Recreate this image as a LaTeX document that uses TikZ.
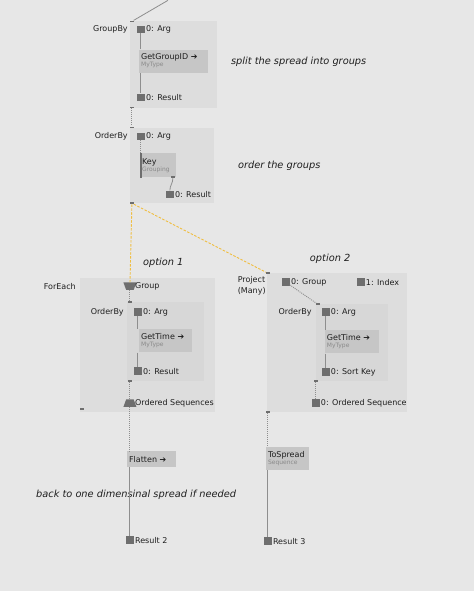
\documentclass[tikz,border=0pt]{standalone}
\usepackage{fontspec}
\setmainfont{DejaVu Sans}
\usetikzlibrary{shapes.geometric}
\definecolor{bgcol}{HTML}{E7E7E7}
\definecolor{regcol}{HTML}{DDDDDD}
\definecolor{subregcol}{HTML}{D7D7D7}
\definecolor{fncol}{HTML}{C6C6C6}
\definecolor{pincol}{HTML}{6E6E6E}
\definecolor{wirecol}{HTML}{8E8E8E}
\definecolor{txtcol}{HTML}{1E1E1E}
\definecolor{subtxtcol}{HTML}{8A8A8A}
\definecolor{spreadcol}{HTML}{F0BE40}
\tikzset{
  region/.style={fill=regcol, anchor=north west, inner sep=0pt},
  subregion/.style={fill=subregcol, anchor=north west, inner sep=0pt},
  pin/.style={fill=pincol, minimum size=7.5pt, inner sep=0pt},
  stub/.style={fill=pincol, minimum width=4pt, minimum height=1.6pt, inner sep=0pt},
  funnel/.style={trapezium, fill=pincol, minimum width=8pt, minimum height=7.5pt, inner sep=0.5pt, trapezium angle=70},
  fn/.style={fill=fncol, anchor=north west, align=left, inner sep=2pt, text=txtcol, font=\fontsize{8}{9}\selectfont},
  lbl/.style={anchor=west, inner sep=0pt, text=txtcol, font=\fontsize{8}{9}\selectfont},
  title/.style={anchor=east, inner sep=0pt, text=txtcol, font=\fontsize{8}{9}\selectfont},
  note/.style={anchor=west, inner sep=0pt, text=txtcol, font=\fontsize{9.8}{11}\selectfont\itshape},
  wire/.style={draw=wirecol, line width=1pt},
  link/.style={draw=wirecol, line width=0.9pt, dash pattern=on 1pt off 1pt},
  spreadlink/.style={draw=spreadcol, line width=0.9pt, dash pattern=on 2.5pt off 1.5pt}
}
\newcommand{\subtype}[1]{{\fontsize{6}{6.5}\selectfont\color{subtxtcol}#1}}
\begin{document}
\begin{tikzpicture}[x=1pt,y=-1pt]
        \fill[bgcol] (0,0) rectangle (474,591);

        \coordinate (top) at (168,0);
        \node[region, minimum width=87pt, minimum height=87pt] (groupby) at (130,20) {};
        \node[title] (groupbyname) at (128,29) {GroupBy};
        \node[stub] (gbin) at (132,21) {};
        \node[stub] (gbout) at (132,107) {};
        \node[pin] (gbarg) at (141,29) {};
        \node[lbl] at (146,29) {0: Arg};
        \node[fn, text width=65pt, minimum height=23pt] (getgroupid) at (139,49) {GetGroupID ➔\\[-2pt]\subtype{MyType}};
        \node[pin] (gbres) at (141,97) {};
        \node[lbl] at (146,97) {0: Result};

        \node[region, minimum width=84pt, minimum height=76pt] (orderby) at (130,127) {};
        \node[title] (orderbyname) at (128,136) {OrderBy};
        \node[stub] (obin) at (132,127) {};
        \node[stub] (obout) at (132,203) {};
        \node[pin] (obarg) at (141,136) {};
        \node[lbl] at (146,136) {0: Arg};
        \node[fn, text width=32pt, minimum height=24pt] (key) at (140,153) {Key\\[-2pt]\subtype{Grouping}};
        \node[stub] (keyout) at (173,177) {};
        \node[pin] (obres) at (170,194) {};
        \node[lbl] at (175,194) {0: Result};

        \node[region, minimum width=135pt, minimum height=134pt] (foreach) at (80,278) {};
        \node[title] (foreachname) at (76,286) {ForEach};
        \node[stub] (fecorner) at (82,409) {};
        \node[funnel, shape border rotate=180] (fegroup) at (130,286) {};
        \node[lbl] at (135,286) {Group};
        \node[subregion, minimum width=77pt, minimum height=79pt] (feorderby) at (127,302) {};
        \node[title] (feorderbyname) at (124,312) {OrderBy};
        \node[stub] (feobin) at (130,302) {};
        \node[stub] (feobout) at (130,381) {};
        \node[pin] (feobarg) at (138,312) {};
        \node[lbl] at (143,312) {0: Arg};
        \node[fn, text width=49pt, minimum height=23pt] (gettimea) at (139,329) {GetTime ➔\\[-2pt]\subtype{MyType}};
        \node[pin] (feobres) at (138,371) {};
        \node[lbl] at (143,371) {0: Result};
        \node[funnel] (feseq) at (130,403) {};
        \node[lbl] at (135,403) {Ordered Sequences};

        \node[fn, text width=45pt, minimum height=16pt] (flatten) at (127,451) {Flatten ➔};
        \node[pin] (resulttwo) at (130,540) {};
        \node[lbl] at (135,540) {Result 2};

        \node[region, minimum width=140pt, minimum height=139pt] (project) at (267,273) {};
        \node[anchor=north east, align=left, inner sep=0pt, text=txtcol, font=\fontsize{8}{11.5}\selectfont] (projectname) at (266,276) {Project\\(Many)};
        \node[stub] (pjin) at (268,273) {};
        \node[stub] (pjout) at (268,412) {};
        \node[pin] (pjgroup) at (286,282) {};
        \node[lbl] at (291,282) {0: Group};
        \node[pin] (pjindex) at (361,282) {};
        \node[lbl] at (366,282) {1: Index};
        \node[subregion, minimum width=72pt, minimum height=77pt] (pjorderby) at (316,304) {};
        \node[title] (pjorderbyname) at (312,312) {OrderBy};
        \node[stub] (pjobin) at (318,304) {};
        \node[stub] (pjobout) at (316,381) {};
        \node[pin] (pjobarg) at (326,312) {};
        \node[lbl] at (331,312) {0: Arg};
        \node[fn, text width=50pt, minimum height=23pt] (gettimeb) at (325,330) {GetTime ➔\\[-2pt]\subtype{MyType}};
        \node[pin] (pjobkey) at (326,372) {};
        \node[lbl] at (331,372) {0: Sort Key};
        \node[pin] (pjseq) at (316,403) {};
        \node[lbl] at (321,403) {0: Ordered Sequence};

        \node[fn, text width=39pt, minimum height=23pt] (tospread) at (266,447) {ToSpread\\[-2pt]\subtype{Sequence}};
        \node[pin] (resultthree) at (268,541) {};
        \node[lbl] at (273,541) {Result 3};

        \node[note] at (231,61) {split the spread into groups};
        \node[note] at (238,166) {order the groups};
        \node[note] at (143,263) {option 1};
        \node[note] at (310,259) {option 2};
        \node[note] at (36,495) {back to one dimensinal spread if needed};

        \draw[wire, line width=0.8pt] (top) -- (gbin);
        \draw[wire] (gbarg) -- (gbarg |- getgroupid.north);
        \draw[wire] (gbarg |- getgroupid.south) -- (gbres);
        \draw[link] (gbout) -- (obin);
        \draw[link] (obarg) -- (obarg |- key.north);
        \draw[draw=pincol, line width=1.2pt] (obarg |- key.north) -- (obarg |- key.south);
        \draw[wire, line width=0.8pt] (keyout) to[out=-90, in=90] (obres);
        \draw[spreadlink] (obout) -- (fegroup);
        \draw[spreadlink] (obout) -- (pjin);
        \draw[link] (fegroup) -- (feobin);
        \draw[wire] (feobarg) -- (feobarg |- gettimea.north);
        \draw[wire] (feobarg |- gettimea.south) -- (feobres);
        \draw[link] (feobout) -- (feseq);
        \draw[link] (feseq) -- (feseq |- flatten.north);
        \draw[wire] (feseq |- flatten.south) -- (resulttwo);
        \draw[link] (pjgroup) -- (pjobin);
        \draw[wire] (pjobarg) -- (pjobarg |- gettimeb.north);
        \draw[wire] (pjobarg |- gettimeb.south) -- (pjobkey);
        \draw[link] (pjobout) -- (pjseq);
        \draw[link] (pjout) -- (pjout |- tospread.north);
        \draw[wire] (pjout |- tospread.south) -- (resultthree);
\end{tikzpicture}
\end{document}
